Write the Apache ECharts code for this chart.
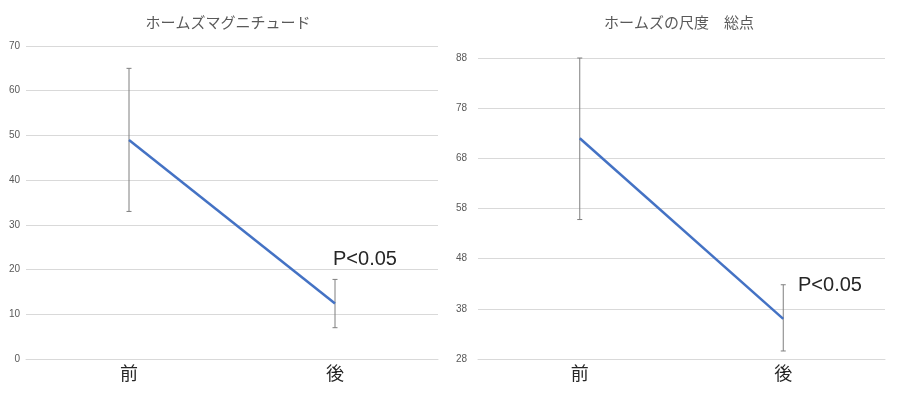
<!DOCTYPE html>
<html><head><meta charset="utf-8">
<script src="https://cdn.jsdelivr.net/npm/echarts@6/dist/echarts.min.js"></script>
<style>html,body{margin:0;padding:0;background:#fff}#c{width:897px;height:393px}</style>
</head><body><div id="c"></div>
<script>
const categories = ['前', '後'];
const magMean = [49, 12.4];
const magLow = [33, 7.0];
const magHigh = [65, 17.8];
const totMean = [72, 36];
const totLow = [55.8, 29.6];
const totHigh = [88, 42.8];
const magTicks = [0, 70, 10];
const totTicks = [28, 88, 10];
const titles = ['ホームズマグニチュード', 'ホームズの尺度\u3000総点'];
const pLabel = 'P<0.05';

const chart = echarts.init(document.getElementById('c'));
const numFont = '"Liberation Sans", "Noto Sans", sans-serif';
const jpFont = '"Noto Sans CJK JP", sans-serif';

function errSeries(idx, low, high) {
  return {
    type: 'custom', xAxisIndex: idx, yAxisIndex: idx, z: 1,
    data: categories.map((c, i) => [i, low[i], high[i]]),
    renderItem: function (params, api) {
      const lo = api.coord([api.value(0), api.value(1)]);
      const hi = api.coord([api.value(0), api.value(2)]);
      const w = 2.5;
      const st = { stroke: '#7f7f7f', lineWidth: 1 };
      return { type: 'group', children: [
        { type: 'line', shape: { x1: lo[0], y1: lo[1], x2: hi[0], y2: hi[1] }, style: st },
        { type: 'line', shape: { x1: lo[0]-w, y1: lo[1], x2: lo[0]+w, y2: lo[1] }, style: st },
        { type: 'line', shape: { x1: hi[0]-w, y1: hi[1], x2: hi[0]+w, y2: hi[1] }, style: st }
      ]};
    }
  };
}

function lineSeries(idx, data) {
  return { type: 'line', xAxisIndex: idx, yAxisIndex: idx, data: data, z: 2,
    symbol: 'none', lineStyle: { color: '#4472C4', width: 2.5 } };
}

function yAxis(idx, t, margin) {
  return { type: 'value', gridIndex: idx, min: t[0], max: t[1], interval: t[2],
    axisLine: { show: false }, axisTick: { show: false },
    splitLine: { lineStyle: { color: '#d9d9d9', width: 1 } },
    axisLabel: { color: '#595959', fontSize: 10, fontFamily: numFont, margin: margin } };
}
function xAxis(idx) {
  return { type: 'category', gridIndex: idx, data: categories, boundaryGap: true,
    axisLine: { show: true, lineStyle: { color: '#d9d9d9' } }, axisTick: { show: false },
    axisLabel: { color: '#262626', fontSize: 18, fontFamily: jpFont, margin: 5 } };
}

chart.setOption({
  animation: false,
  backgroundColor: '#fff',
  title: [
    { text: titles[0], left: 223, top: 10, textAlign: 'center',
      textStyle: { color: '#595959', fontSize: 15, fontWeight: 'normal', fontFamily: jpFont } },
    { text: titles[1], left: 674, top: 10, textAlign: 'center',
      textStyle: { color: '#595959', fontSize: 15, fontWeight: 'normal', fontFamily: jpFont } }
  ],
  grid: [
    { left: 26, top: 46, width: 412, height: 313 },
    { left: 478, top: 58, width: 407, height: 301 }
  ],
  xAxis: [xAxis(0), xAxis(1)],
  yAxis: [yAxis(0, magTicks, 6), yAxis(1, totTicks, 11)],
  graphic: [
    { type: 'text', left: 333, top: 249, style: { text: pLabel, fill: '#262626', fontSize: 20, fontFamily: numFont } },
    { type: 'text', left: 798, top: 275, style: { text: pLabel, fill: '#262626', fontSize: 20, fontFamily: numFont } }
  ],
  series: [
    errSeries(0, magLow, magHigh), lineSeries(0, magMean),
    errSeries(1, totLow, totHigh), lineSeries(1, totMean)
  ]
});
</script></body></html>
